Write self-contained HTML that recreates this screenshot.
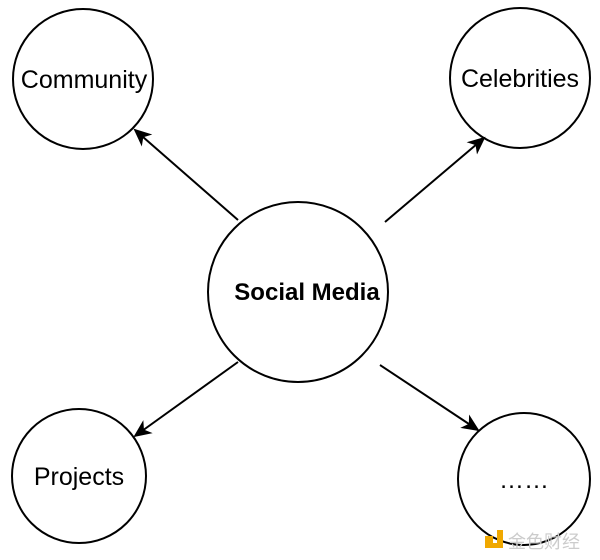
<!DOCTYPE html>
<html><head><style>body{margin:0;background:#fff}svg{display:block}</style></head><body>
<svg width="600" height="560" viewBox="0 0 600 560" xmlns="http://www.w3.org/2000/svg">
<defs>
<marker id="b" markerWidth="18" markerHeight="18" refX="16" refY="9" orient="auto" markerUnits="userSpaceOnUse" viewBox="0 0 18 18"><path d="M0,1 L18,9 L0,17 L5,9 Z" fill="#000"/></marker></defs>
<g fill="#fff" stroke="#000" stroke-width="2">
<circle cx="83" cy="79" r="70"/>
<circle cx="520" cy="78" r="70"/>
<circle cx="298" cy="292" r="90"/>
<circle cx="79" cy="476" r="67"/>
<circle cx="524" cy="479" r="66"/>
</g>
<g stroke="#000" stroke-width="2" marker-end="url(#b)">
<line x1="238" y1="220" x2="135" y2="130"/>
<line x1="385" y1="222" x2="484" y2="138"/>
<line x1="238" y1="362" x2="135" y2="436"/>
<line x1="380" y1="365" x2="478" y2="430"/>
</g>
<g font-family="Liberation Sans, sans-serif" font-size="25" text-anchor="middle" fill="#000">
<text x="84" y="88">Community</text>
<text x="520" y="87">Celebrities</text>
<text x="307" y="300" font-weight="bold" font-size="24">Social Media</text>
<text x="79" y="485">Projects</text>
<text x="524" y="488">……</text>
</g>
<rect x="485" y="536" width="8" height="8" fill="#f0a800"/>
<path d="M497,530 h6 v18 h-18 v-5 h12 z" fill="#f0a800"/>
<text x="508" y="548" font-family="Noto Sans CJK SC, sans-serif" font-size="18" fill="#ccc">金色财经</text>
</svg>
</body></html>
